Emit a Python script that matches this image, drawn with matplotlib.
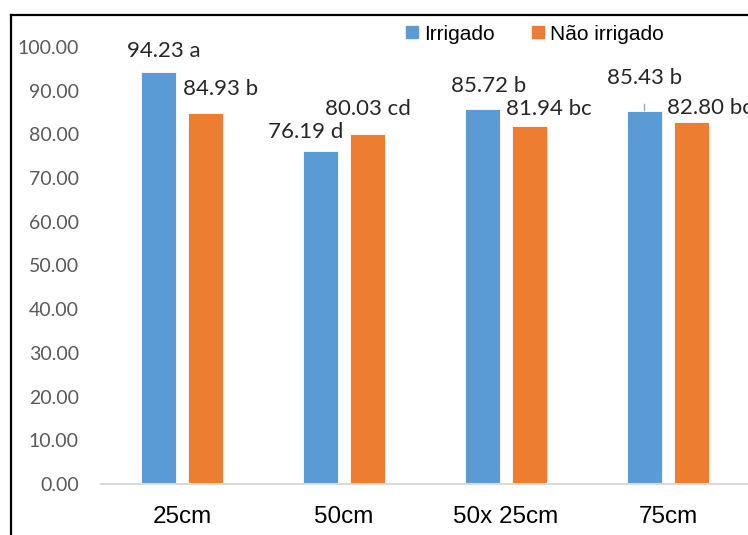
import numpy as np
import matplotlib
matplotlib.use("Agg")
import matplotlib.pyplot as plt
from matplotlib.lines import Line2D
from matplotlib.patches import Patch

# data
categories = ["25cm", "50cm", "50x 25cm", "75cm"]
irrigado = [94.23, 76.19, 85.72, 85.43]
nao_irrigado = [84.93, 80.03, 81.94, 82.80]
letters_irr = ["a", "d", "b", "b"]
letters_nao = ["b", "cd", "bc", "bc"]

blue = "#5B9BD5"
orange = "#ED7D31"

fig = plt.figure(figsize=(7.48, 5.35), dpi=100)
ax = fig.add_axes([101 / 748, 51 / 535, 648 / 748, 437 / 535])

x = np.arange(len(categories))
off = 0.145
w = 0.22
ax.bar(x - off, irrigado, w, color=blue, edgecolor="white", linewidth=0.6)
ax.bar(x + off, nao_irrigado, w, color=orange, edgecolor="white", linewidth=0.6)

ax.set_xlim(-0.5, 3.5)
ax.set_ylim(0, 100)
ax.set_yticks(np.arange(0, 101, 10))
ax.set_yticklabels(["%.2f" % v for v in np.arange(0, 101, 10)],
                   fontfamily="Lato", fontsize=14, color="#595959")
ax.set_xticks(x)
ax.set_xticklabels(categories, fontfamily="Liberation Sans", fontsize=17.5, color="black")
ax.tick_params(axis="y", length=0, pad=16)
ax.tick_params(axis="x", length=0, pad=15.5)
for s in ["top", "right", "left"]:
    ax.spines[s].set_visible(False)
ax.spines["bottom"].set_color("#D9D9D9")
ax.spines["bottom"].set_linewidth(1.5)

# label offsets in pixels (dx, dy) from bar top
irr_off = [(5, 21), (-15, 19), (6, 23), (0, 33)]
nao_off = [(15, 24), (0, 25), (19, 17), (18, 14)]
k = 0.72
for i in range(len(categories)):
    dx, dy = irr_off[i]
    arrow = None
    if i == 3:
        arrow = dict(arrowstyle="-", color="#A6A6A6", lw=1, shrinkA=10, shrinkB=0)
    ax.annotate("%.2f %s" % (irrigado[i], letters_irr[i]), xy=(x[i] - off, irrigado[i]),
                xytext=(dx * k, dy * k), textcoords="offset points",
                ha="center", va="center", fontfamily="Lato", fontsize=16,
                color="#262626", arrowprops=arrow, annotation_clip=False)
    dx, dy = nao_off[i]
    ax.annotate("%.2f %s" % (nao_irrigado[i], letters_nao[i]), xy=(x[i] + off, nao_irrigado[i]),
                xytext=(dx * k, dy * k), textcoords="offset points",
                ha="center", va="center", fontfamily="Lato", fontsize=16,
                color="#262626", annotation_clip=False)

handles = [Patch(color=blue), Patch(color=orange)]
fig.legend(handles, ["Irrigado", "Não irrigado"], loc="center",
           bbox_to_anchor=(535 / 748, 1 - 34 / 535), ncol=2, frameon=False,
           prop={"family": "Liberation Sans", "size": 15},
           handlelength=0.55, handleheight=0.55, handletextpad=0.3, columnspacing=1.8)

# chart border (cropped: only left and top visible)
x0 = 11 / 748
y0 = 1 - 15 / 535
fig.add_artist(Line2D([x0, x0], [0, y0], color="black", lw=1.6, transform=fig.transFigure))
fig.add_artist(Line2D([x0, 1], [y0, y0], color="black", lw=1.6, transform=fig.transFigure))

fig.savefig("out.png", dpi=100)
